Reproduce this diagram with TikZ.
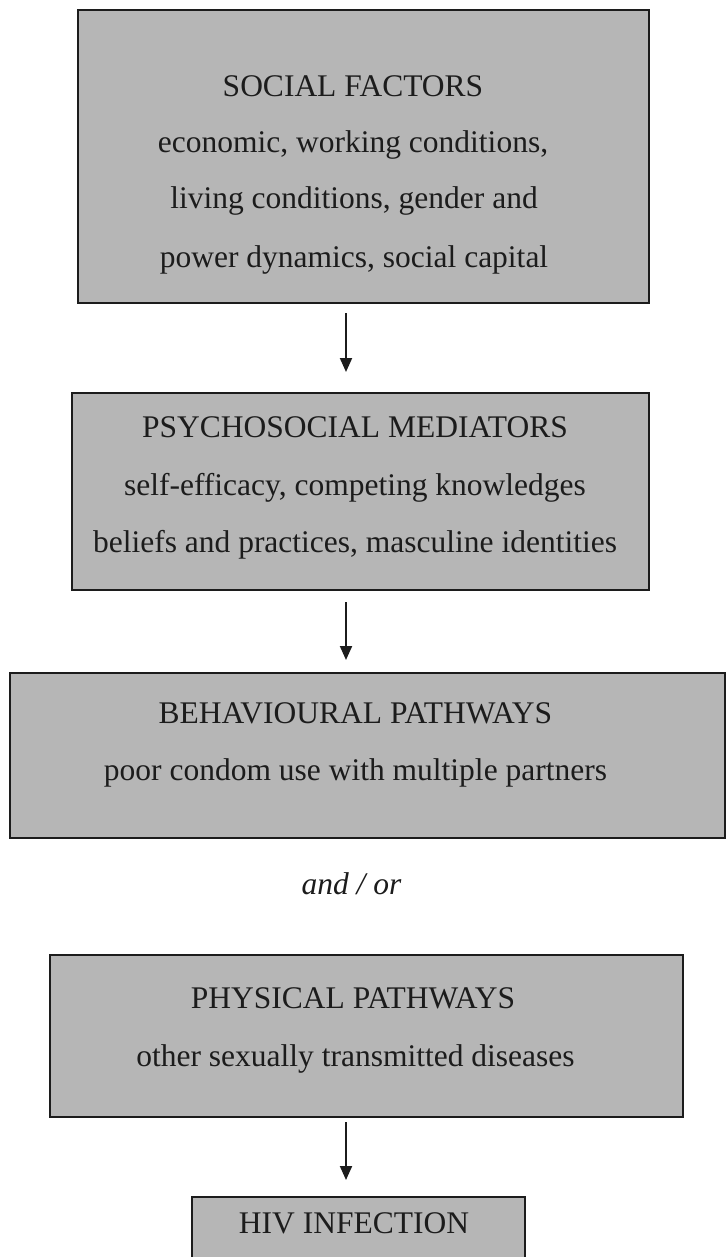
\documentclass[tikz,border=0pt]{standalone}
\usepackage{fontspec}
\setmainfont{Liberation Serif}
\usetikzlibrary{arrows.meta}
\definecolor{boxfill}{RGB}{182,182,182}
\definecolor{ink}{RGB}{28,28,28}
\begin{document}
\begin{tikzpicture}[x=1pt,y=-1pt,
  box/.style={draw=ink, line width=2.4pt, fill=boxfill, inner sep=0pt, outer sep=0pt, rectangle},
  txt/.style={anchor=base, inner sep=0pt, text=ink, font=\fontsize{31.5}{38}\selectfont},
  arr/.style={draw=ink, line width=2pt, -{Triangle[width=12pt,length=14pt]}}]
\useasboundingbox (0,0) rectangle (726,1257);
\fill[white] (0,0) rectangle (726,1257);
\begin{scope}
\clip (0,0) rectangle (726,1257);
% boxes
\node[box, minimum width=571pt, minimum height=293pt] (b1) at (363.5,156.5) {};
\node[box, minimum width=577pt, minimum height=197pt] (b2) at (360.5,491.5) {};
\node[box, minimum width=715pt, minimum height=165pt] (b3) at (367.5,755.5) {};
\node[box, minimum width=633pt, minimum height=162pt] (b4) at (366.5,1036) {};
\node[box, minimum width=333pt, minimum height=93pt] (b5) at (358.5,1243.5) {};
% texts
\node[txt] (t1a) at (353,97) {SOCIAL FACTORS};
\node[txt] (t1b) at (353,153) {economic, working conditions,};
\node[txt] (t1c) at (354,209) {living conditions, gender and};
\node[txt] (t1d) at (354,267) {power dynamics, social capital};
\node[txt] (t2a) at (355,437) {PSYCHOSOCIAL MEDIATORS};
\node[txt] (t2b) at (355,495) {self-efficacy, competing knowledges};
\node[txt] (t2c) at (355,552) {beliefs and practices, masculine identities};
\node[txt] (t3a) at (355.5,723) {BEHAVIOURAL PATHWAYS};
\node[txt] (t3b) at (355.5,780) {poor condom use with multiple partners};
\node[txt] (andor) at (351.5,894) {\itshape and / or};
\node[txt] (t4a) at (353,1008) {PHYSICAL PATHWAYS};
\node[txt] (t4b) at (355.5,1066) {other sexually transmitted diseases};
\node[txt] (t5a) at (354,1233) {HIV INFECTION};
% arrows
\coordinate (ax) at (346,0);
\draw[arr, shorten <=10pt, shorten >=21pt] (b1.south -| ax) -- (b2.north -| ax);
\draw[arr, shorten <=12pt, shorten >=13pt] (b2.south -| ax) -- (b3.north -| ax);
\draw[arr, shorten <=5pt, shorten >=17pt] (b4.south -| ax) -- (b5.north -| ax);
\end{scope}
\end{tikzpicture}
\end{document}
